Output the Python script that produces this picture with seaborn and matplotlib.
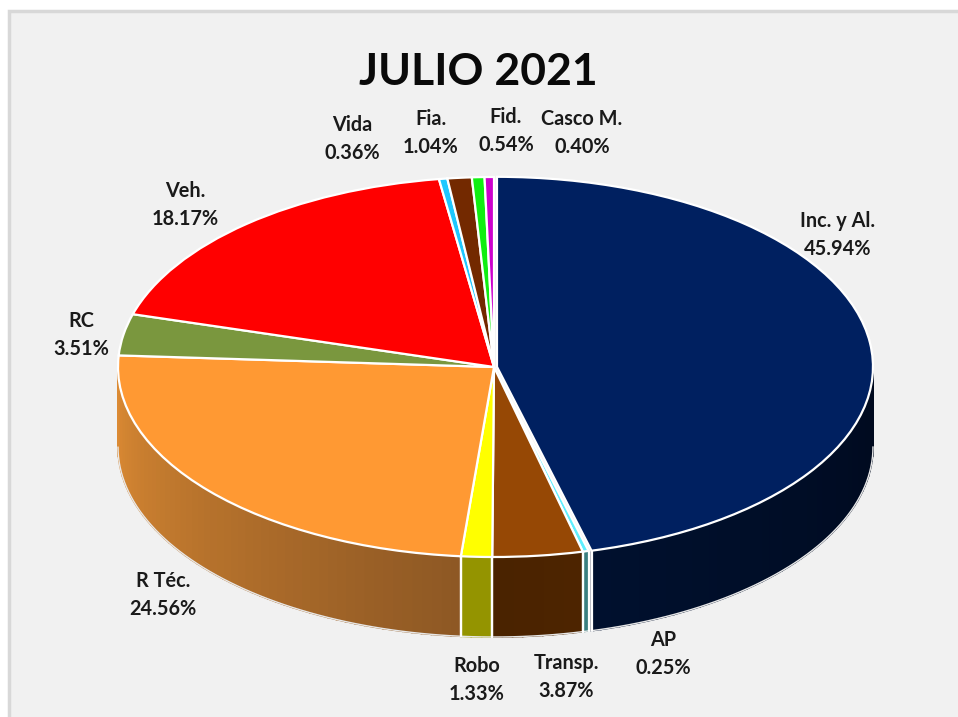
import numpy as np
import matplotlib
matplotlib.use("Agg")
import matplotlib.pyplot as plt
from matplotlib.patches import Rectangle
import seaborn as sns

# ------------------- Data -------------------- #
categories = ["Inc. y Al.", "AP", "Transp.", "Robo", "R Téc.", "RC", "Veh.",
              "Vida", "Fia.", "Fid.", "Casco M."]
values = [45.94, 0.25, 3.87, 1.33, 24.56, 3.51, 18.17, 0.36, 1.04, 0.54, 0.40]
title_text = "JULIO 2021"

# ------------------- Style -------------------- #
top_colors = ["#002060", "#5FEFFF", "#964805", "#FFFF00", "#FF9933", "#7A973E",
              "#FF0000", "#1EC8FF", "#732900", "#11EE11", "#CC00CC"]
# side wall colours, first and last in clockwise order
side_colors = [("#000A1E", "#00102E"), ("#3A7F80", "#3A7F80"), ("#4D2400", "#4A2300"),
               ("#949400", "#949400"), ("#8E5824", "#DB8A33"), ("#5A7030", "#5A7030"),
               ("#A00000", "#A00000"), ("#0A80A0", "#0A80A0"), ("#4A1A00", "#4A1A00"),
               ("#0A900A", "#0A900A"), ("#800080", "#800080")]
label_px = [(838, 235), (663, 654), (566, 677), (477, 680), (163, 595), (81, 335),
            (185, 205), (352, 139), (431, 133), (506, 131), (582, 133)]

W, H = 958, 717
CX, CY, RX, RY = 494, 367, 376, 190   # top ellipse, pixels
DEPTH = 80 / RY
INC_SHIFT = 0.008

sns.set_theme(style="white")
plt.rcParams['font.family'] = ['Lato', 'DejaVu Sans']

fig = plt.figure(figsize=(W / 100, H / 100), dpi=100, facecolor="white")
fig.patches.append(Rectangle((9 / W, -0.02), 1.02, (H - 11) / H + 0.02, transform=fig.transFigure,
                             facecolor="#F1F1F1", edgecolor="#D8D8D8", linewidth=2.5, zorder=-1))

ax = fig.add_axes([0, 0, 1, 1])
ax.patch.set_alpha(0)


def px(x, y):
    return (x - CX) / RX, (CY - y) / RY


# ------------------- Side walls -------------------- #
shares = np.array(values) / sum(values) * 360
starts = 90 - np.concatenate([[0], np.cumsum(shares)[:-1]])
ends = starts - shares

for i in range(len(values)):
    a0, a1 = min(starts[i], 0), max(ends[i], -180)
    if a0 <= a1:
        continue
    dx = dy = 0
    if i == 0:
        mid = np.radians((starts[i] + ends[i]) / 2)
        dx, dy = INC_SHIFT * np.cos(mid), INC_SHIFT * np.sin(mid)
    n = max(int((a0 - a1) / 1.5), 1)
    angles = np.radians(np.linspace(a0, a1, n + 1))
    shades = sns.blend_palette(side_colors[i], n)
    for j in range(n):
        xs = np.cos(angles[j:j + 2]) + dx
        ys = np.sin(angles[j:j + 2]) + dy
        ax.fill([xs[0], xs[1], xs[1], xs[0]],
                [ys[0], ys[1], ys[1] - DEPTH, ys[0] - DEPTH],
                color=shades[j], linewidth=1.2, zorder=1)
    # pale outline of the wall, vertical only at real slice edges
    xs, ys = np.cos(angles) + dx, np.sin(angles) + dy
    ax.plot(xs, ys - DEPTH, color="#E8E8E8", linewidth=1, zorder=2)
    if a0 == starts[i]:
        ax.plot([xs[0], xs[0]], [ys[0], ys[0] - DEPTH], color="white", linewidth=1.6, zorder=2)
    if a1 == ends[i]:
        ax.plot([xs[-1], xs[-1]], [ys[-1], ys[-1] - DEPTH], color="white", linewidth=1.6, zorder=2)

# ------------------- Top face -------------------- #
explode = [INC_SHIFT] + [0] * (len(values) - 1)
wedges, _ = ax.pie(values, colors=sns.color_palette(top_colors), startangle=90, counterclock=False,
                   explode=explode, radius=1, wedgeprops={"edgecolor": "white", "linewidth": 1.6})
for w in wedges:
    w.set_zorder(3)

ax.set_aspect("auto")
ax.set_xlim(px(0, 0)[0], px(W, 0)[0])
ax.set_ylim(px(0, H)[1], px(0, 0)[1])
ax.axis("off")

# ------------------- Text -------------------- #
for cat, val, (lx, ly) in zip(categories, values, label_px):
    x, y = px(lx, ly)
    ax.text(x, y, f"{cat}\n{val:.2f}%", ha="center", va="center", fontsize=14.3,
            fontweight="bold", color="#1A1A1A", linespacing=1.5, zorder=5)

x, y = px(478, 72)
ax.text(x, y, title_text, ha="center", va="center", fontsize=32, fontweight="bold",
        color="#0A0A0A", zorder=5)

fig.savefig("out.png", dpi=100, facecolor="white")
plt.close(fig)
